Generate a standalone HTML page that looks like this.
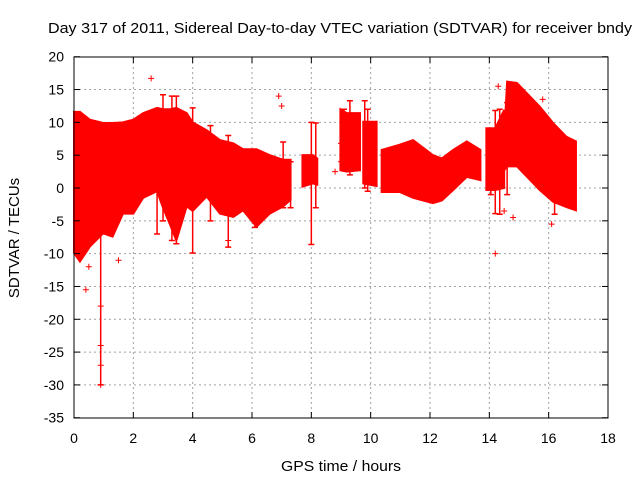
<!DOCTYPE html>
<html><head><meta charset="utf-8"><style>
body{margin:0;background:#fff}
svg{display:block;font-family:"Liberation Sans",sans-serif}
</style></head><body>
<svg id="c" width="640" height="480">
<text x="340" y="33" text-anchor="middle" font-size="15" textLength="584" lengthAdjust="spacingAndGlyphs">Day 317 of 2011, Sidereal Day-to-day VTEC variation (SDTVAR) for receiver bndy</text>
<text x="341" y="471" text-anchor="middle" font-size="15" textLength="120" lengthAdjust="spacingAndGlyphs">GPS time / hours</text>
<text transform="translate(19,238) rotate(-90)" text-anchor="middle" font-size="15">SDTVAR / TECUs</text>
<g id="grid"></g>
<g id="band"></g>
<g id="spk"></g>
<g id="pts"></g>
<rect x="74" y="57" width="534" height="361" fill="none" stroke="#000"/>
<g id="ticks"></g>
</svg>
<script>
const xTicks=[0,2,4,6,8,10,12,14,16,18];
const yTicks=[20,15,10,5,0,-5,-10,-15,-20,-25,-30,-35];
const times=[0,0.2,0.54,0.98,1.3,1.65,2.0,2.33,2.8,3.0,3.24,3.45,3.8,4.0,4.47,4.92,5.37,5.7,6.15,6.6,7.05,7.3,null,7.7,8.05,8.2,null,8.98,9.2,9.64,null,9.75,10.2,null,10.37,10.98,11.43,12.1,12.4,12.78,13.24,13.7,null,13.9,14.2,14.5,null,14.55,14.6,14.93,15.27,15.7,16.15,16.6,16.92];
const upper=[11.6,11.6,10.4,9.9,9.9,10.0,10.4,11.4,12.2,12.0,12.0,12.2,11.4,10.0,8.8,7.3,6.8,5.9,5.9,5.0,4.3,4.3,null,5.0,5.0,4.5,null,12.0,11.4,11.4,null,10.1,10.1,null,5.8,6.6,7.3,5.0,4.5,5.8,7.1,5.8,null,9.1,9.1,11.9,null,12,16.2,16.0,14.4,12.4,9.9,7.8,7.1];
const lower=[-9.9,-11.2,-8.9,-6.9,-7.4,-3.9,-3.9,-1.5,-0.5,-3,-5.6,-8.0,-2.8,-3.5,-1.3,-3.9,-4.4,-3.4,-5.9,-3.9,-2.8,-1.8,null,0.2,0.7,0.5,null,2.7,2.5,2.7,null,0.7,0.3,null,-0.6,-0.6,-1.5,-2.3,-1.9,-0.3,1.7,1.2,null,-0.3,-0.3,0,null,3,3.3,3.3,1.7,-0.3,-2.1,-2.9,-3.4];
const spikeT=[0.9,2.8,3.0,3.3,3.45,4.0,4.6,5.2,6.1,7.05,7.3,8.0,8.15,9.1,9.3,9.8,9.9,14.05,14.2,14.35,14.6,16.2];
const spikeHi=[-7,12,14.2,14,14,12.2,9.5,8,4,7,4,10,9.9,12,13.3,13.3,12,9,11.8,12,13,-2];
const spikeLo=[-30,-7,-5,-8,-8.5,-9.9,-5,-9,-6,-3,-3,-8.6,-3,3,2,0,-0.5,-1,-3.9,-4,-1,-4];
const outX=[2.6,0.9,0.9,0.9,0.9,0.4,0.5,1.5,6.9,7.0,14.2,14.3,15.8,16.1,14.8,14.5,9.0,9.0,8.8,5.2];
const outY=[16.7,-30,-27,-24,-18,-15.5,-12,-11,14,12.5,-10,15.5,13.5,-5.5,-4.5,-3.5,6.8,4,2.5,-8];
const X=v=>74+v*534/18, Y=v=>188-v*361/55;
const NS="http://www.w3.org/2000/svg";
function mk(t,a,p){const e=document.createElementNS(NS,t);for(const k in a)e.setAttribute(k,a[k]);p.appendChild(e);return e;}
const g=document.getElementById('grid'),tk=document.getElementById('ticks');
xTicks.forEach(v=>{
 if(v>0&&v<18){const l=mk('line',{x1:X(v),x2:X(v),y1:57,y2:418,stroke:'#a0a0a0','stroke-dasharray':'2,3'},g);}
 mk('line',{x1:X(v),x2:X(v),y1:418,y2:412,stroke:'#000'},tk);mk('line',{x1:X(v),x2:X(v),y1:57,y2:63,stroke:'#000'},tk);
 const t=mk('text',{x:X(v),y:443,'text-anchor':'middle','font-size':14},tk);t.textContent=v;
 
});
yTicks.forEach(v=>{
 if(v<20&&v>-35){const l=mk('line',{x1:74,x2:608,y1:Y(v),y2:Y(v),stroke:'#a0a0a0','stroke-dasharray':'2,3'},g);}
 mk('line',{x1:74,x2:80,y1:Y(v),y2:Y(v),stroke:'#000'},tk);mk('line',{x1:608,x2:602,y1:Y(v),y2:Y(v),stroke:'#000'},tk);
 const t=mk('text',{x:64,y:Y(v)+5,'text-anchor':'end','font-size':14},tk);t.textContent=v;
 
});
const b=document.getElementById('band');
let seg=[];
function flush(){if(seg.length<2){seg=[];return;}
 const pts=seg.map(i=>X(times[i])+','+Y(upper[i])).concat(seg.slice().reverse().map(i=>X(times[i])+','+Y(lower[i])));
 const p=mk('polygon',{points:pts.join(' '),fill:'#ff0000',stroke:'#ff0000','stroke-width':2},b);
 seg=[];}
times.forEach((t,i)=>{if(t===null)flush();else seg.push(i);});flush();
const sg=document.getElementById('spk');
spikeT.forEach((t,i)=>{const px=X(t);
 const l=mk('path',{d:`M${px},${Y(spikeHi[i])}V${Y(spikeLo[i])}M${px-3},${Y(spikeHi[i])}h6M${px-3},${Y(spikeLo[i])}h6`,stroke:'#ff0000','stroke-width':1.5},sg);
 });
const pg=document.getElementById('pts');
outX.forEach((x,i)=>{const px=X(x),py=Y(outY[i]);
 const p=mk('path',{d:`M${px-3},${py}h6M${px},${py-3}v6`,stroke:'#ff0000','stroke-width':1},pg);
 });
</script>
</body></html>
